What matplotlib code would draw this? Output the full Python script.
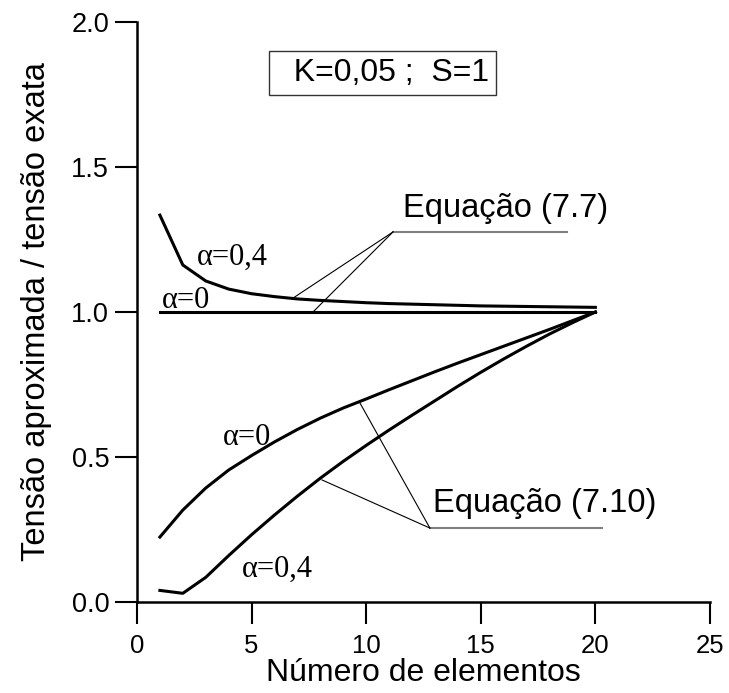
import numpy as np
import matplotlib.pyplot as plt

# número de elementos
n = np.arange(1, 21)

# equação (7.7)
upper_a0 = [1.0] * 20
upper_a04 = [1.334, 1.162, 1.107, 1.079, 1.063, 1.053, 1.045, 1.040, 1.036, 1.032,
             1.029, 1.027, 1.025, 1.023, 1.021, 1.020, 1.019, 1.018, 1.017, 1.016]

# equação (7.10)
lower_a0 = [0.224, 0.317, 0.393, 0.455, 0.505, 0.552, 0.595, 0.634, 0.669, 0.700,
            0.732, 0.763, 0.794, 0.824, 0.853, 0.882, 0.911, 0.940, 0.970, 1.000]
lower_a04 = [0.040, 0.030, 0.085, 0.160, 0.232, 0.300, 0.365, 0.427, 0.485, 0.540,
             0.593, 0.644, 0.694, 0.744, 0.792, 0.838, 0.882, 0.924, 0.963, 1.000]

xticks = [0, 5, 10, 15, 20, 25]
yticks = [0.0, 0.5, 1.0, 1.5, 2.0]

sans = 'Liberation Sans'
serif = 'Liberation Serif'

fig = plt.figure(figsize=(7.29, 6.93), dpi=100)
ax = fig.add_axes([0.1879, 0.1313, 0.7860, 0.8370])

lw = 2.2
ax.plot(n, upper_a0, color='black', lw=lw)
ax.plot(n, upper_a04, color='black', lw=lw)
ax.plot(n, lower_a0, color='black', lw=lw)
ax.plot(n, lower_a04, color='black', lw=lw)

ax.set_xlim(0, 25)
ax.set_ylim(0, 2.0)
ax.set_xticks(xticks)
ax.set_yticks(yticks)
ax.set_xticklabels([str(v) for v in xticks], fontfamily=sans, fontsize=18.5)
ax.set_yticklabels([f'{v:.1f}' for v in yticks], fontfamily=sans, fontsize=19.5)
ax.tick_params(axis='both', direction='out', length=16, width=1.5, color='black')
ax.tick_params(axis='x', pad=7)
ax.tick_params(axis='y', pad=4)

for side in ['top', 'right']:
    ax.spines[side].set_visible(False)
for side in ['left', 'bottom']:
    ax.spines[side].set_linewidth(1.8)

ax.set_xlabel('Número de elementos', fontfamily=sans, fontsize=23, labelpad=0)
ax.set_ylabel('Tensão aproximada / tensão exata', fontfamily=sans, fontsize=23.5, labelpad=14)

# curve labels
ax.text(2.62, 1.162, r'α=0,4', fontfamily=serif, fontsize=22, ha='left', va='baseline')
ax.text(1.09, 1.014, r'α=0', fontfamily=serif, fontsize=22, ha='left', va='baseline')
ax.text(3.75, 0.541, r'α=0', fontfamily=serif, fontsize=22, ha='left', va='baseline')
ax.text(4.58, 0.086, r'α=0,4', fontfamily=serif, fontsize=22, ha='left', va='baseline')

# equation (7.7) leaders
ax.text(11.6, 1.328, 'Equação (7.7)', fontfamily=sans, fontsize=23.5, ha='left', va='baseline')
ax.plot([11.17, 18.76], [1.276, 1.276], color='#808080', lw=1.5)
ax.plot([11.17, 6.81], [1.276, 1.048], color='black', lw=0.8)
ax.plot([11.17, 7.68], [1.276, 1.0], color='black', lw=0.8)

# equation (7.10) leaders
ax.text(12.91, 0.310, 'Equação (7.10)', fontfamily=sans, fontsize=23.5, ha='left', va='baseline')
ax.plot([12.78, 20.29], [0.255, 0.255], color='#808080', lw=1.5)
ax.plot([12.78, 9.73], [0.255, 0.686], color='black', lw=0.8)
ax.plot([12.78, 8.07], [0.255, 0.421], color='black', lw=0.8)

# parameters box
ax.text(0.428, 0.912, '  K=0,05 ;  S=1', transform=ax.transAxes, fontfamily=sans,
        fontsize=23, ha='center', va='center',
        bbox=dict(boxstyle='square,pad=0.22', facecolor='white', edgecolor='#333333', lw=1.0))

fig.savefig('out.png', dpi=100)
